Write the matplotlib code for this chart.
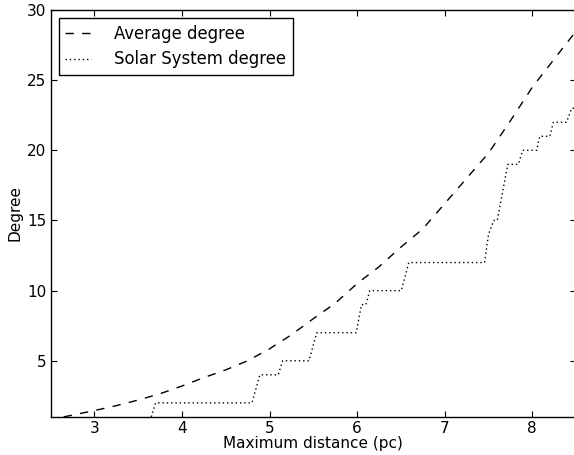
import numpy as np
import matplotlib
matplotlib.use("Agg")
import matplotlib.pyplot as plt

# average degree
avg_dist = [2.65, 3.0, 3.25, 3.5, 3.75, 4.0, 4.25, 4.5, 4.75, 5.0, 5.25, 5.5,
            5.75, 6.0, 6.25, 6.5, 6.75, 7.0, 7.25, 7.5, 7.75, 8.0, 8.25, 8.5]
avg_degree = [1.0, 1.45, 1.8, 2.2, 2.65, 3.2, 3.8, 4.35, 5.0, 5.85, 6.85, 8.0,
              9.1, 10.5, 11.7, 13.1, 14.4, 16.2, 18.0, 19.8, 22.1, 24.5, 26.5, 28.5]

# solar system degree (step-like dotted curve)
sol_dist = [3.65, 3.70, 4.80, 4.89, 5.10, 5.15, 5.45, 5.54, 5.99, 6.05, 6.10,
            6.145, 6.505, 6.59, 7.455, 7.50, 7.56, 7.60, 7.72, 7.84, 7.89,
            8.05, 8.085, 8.20, 8.24, 8.39, 8.45, 8.5]
sol_degree = [1, 2, 2, 4, 4, 5, 5, 7, 7, 9, 9,
              10, 10, 12, 12, 14, 15, 15, 19, 19, 20,
              20, 21, 21, 22, 22, 23, 23]

xticks = [3, 4, 5, 6, 7, 8]
yticks = [5, 10, 15, 20, 25, 30]

plt.rcParams['font.family'] = ['DejaVu Sans']

fig = plt.figure(figsize=(5.74, 4.55), dpi=100)
ax = fig.add_axes([50.5/574, (455-416.9)/455, (576.1-50.5)/574, (416.9-10)/455])

ax.plot(avg_dist, avg_degree, color='black', linewidth=1.0,
        linestyle=(0, (6, 6)), label='Average degree')
ax.plot(sol_dist, sol_degree, color='black', linewidth=1.0,
        linestyle=(0, (1, 2.1)), label='Solar System degree')

ax.set_xlim(2.5, 8.5)
ax.set_ylim(1, 30)
ax.set_xticks(xticks)
ax.set_yticks(yticks)
ax.tick_params(direction='in', length=4, width=0.8, labelsize=11,
               top=True, right=True, pad=3)
for sp in ax.spines.values():
    sp.set_linewidth(1.0)

ax.set_xlabel('Maximum distance (pc)', fontsize=11, labelpad=0)
ax.set_ylabel('Degree', fontsize=11, labelpad=3)

leg = ax.legend(loc='upper left', fontsize=11.9, fancybox=False,
                framealpha=1, edgecolor='black', handlelength=1.55,
                handletextpad=1.4, borderpad=0.4, labelspacing=0.45,
                borderaxespad=0.5)
leg.get_frame().set_linewidth(1.0)

fig.savefig('out.png', dpi=100)
